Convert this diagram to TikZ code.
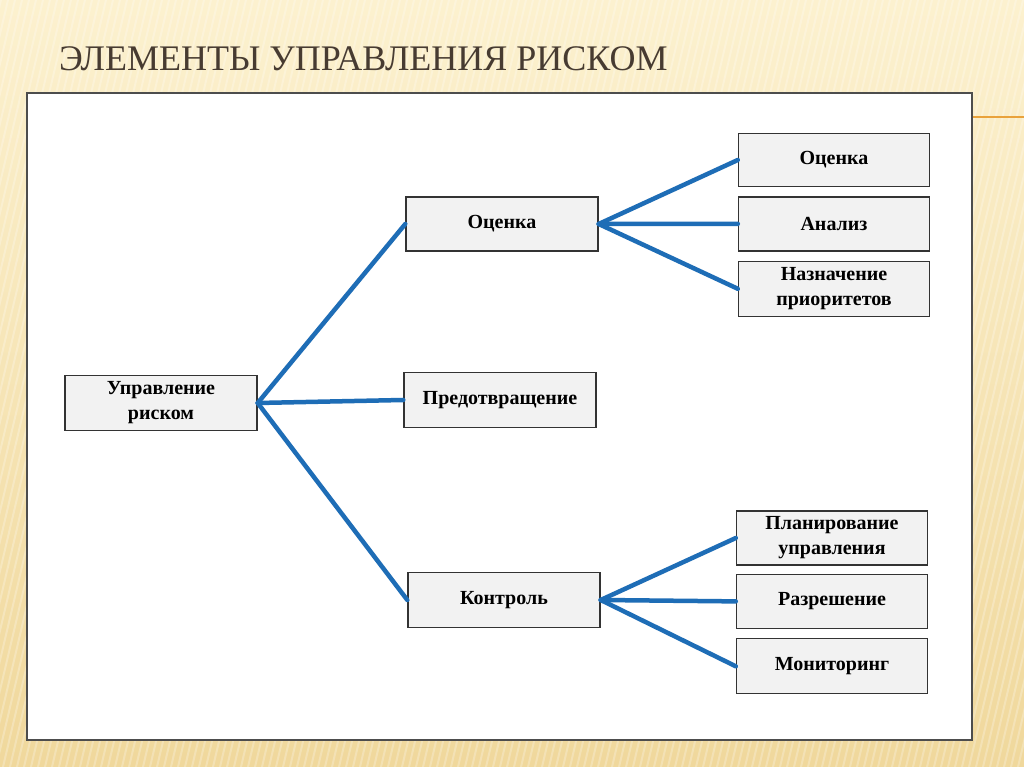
\documentclass[tikz,border=0pt]{standalone}
\usepackage{fontspec}
\setmainfont{Liberation Serif}
\usetikzlibrary{positioning}

\definecolor{slidetop}{HTML}{FCF1CF}
\definecolor{slidebot}{HTML}{F0D89C}
\definecolor{titlegray}{HTML}{473B31}
\definecolor{panelline}{HTML}{4D4D4D}
\definecolor{boxline}{HTML}{333333}
\definecolor{boxfill}{HTML}{F2F2F2}
\definecolor{linkblue}{HTML}{1E6DB6}
\definecolor{rulecolor}{HTML}{E9A23B}

\begin{document}
\begin{tikzpicture}[
    x=1pt, y=1pt,
    node distance=9pt,
    item/.style={rectangle, minimum width=192pt, minimum height=54pt, text centered, align=center, draw=boxline, line width=1.4pt, fill=boxfill, font=\fontsize{20}{25}\selectfont\bfseries, inner sep=2pt},
    link/.style={draw=linkblue, line width=4.5pt, line cap=round}
]

% slide background and frame
\shade[top color=slidetop, bottom color=slidebot] (0,0) rectangle (1024,767);
\useasboundingbox (0,0) rectangle (1024,767);
\begin{scope}
\clip (0,0) rectangle (1024,767);
\foreach \i in {-200,-193,...,1024}
    \draw[white, opacity=0.25, line width=2pt] (\i,0) -- (\i+180,767);
\end{scope}
\draw[rulecolor, line width=1.5pt] (972,650) -- (1024,650);
\draw[panelline, line width=2pt, fill=white] (27,27) rectangle (972,674);

\node (title) [anchor=west, text=titlegray, font=\fontsize{36}{40}\selectfont, inner sep=0pt] at (59,708) {ЭЛЕМЕНТЫ УПРАВЛЕНИЯ РИСКОМ};

% tree
\node (root) [item, minimum height=55pt] at (161,364) {Управление\\риском};
\node (assess) [item] at (502,543) {Оценка};
\node (prevent) [item, minimum height=55pt] at (500,367) {Предотвращение};
\node (control) [item, minimum height=55pt] at (504,167) {Контроль};

\node (evaluate) [item, minimum width=191pt, minimum height=53pt] at (834,607) {Оценка};
\node (analysis) [item, minimum width=191pt, below=of evaluate] {Анализ};
\node (priority) [item, minimum width=191pt, minimum height=55pt, below=of analysis] {Назначение\\приоритетов};

\node (planning) [item, minimum width=191pt] at (832,229) {Планирование\\управления};
\node (resolve) [item, minimum width=191pt, below=8pt of planning] {Разрешение};
\node (monitor) [item, minimum width=191pt, minimum height=55pt, below=of resolve] {Мониторинг};

\draw [link] (root.east) -- (assess.west);
\draw [link] (root.east) -- (prevent.west);
\draw [link] (root.east) -- (control.west);
\draw [link] (assess.east) -- (evaluate.west);
\draw [link] (assess.east) -- (analysis.west);
\draw [link] (assess.east) -- (priority.west);
\draw [link] (control.east) -- (planning.west);
\draw [link] (control.east) -- (resolve.west);
\draw [link] (control.east) -- (monitor.west);

\end{tikzpicture}
\end{document}
